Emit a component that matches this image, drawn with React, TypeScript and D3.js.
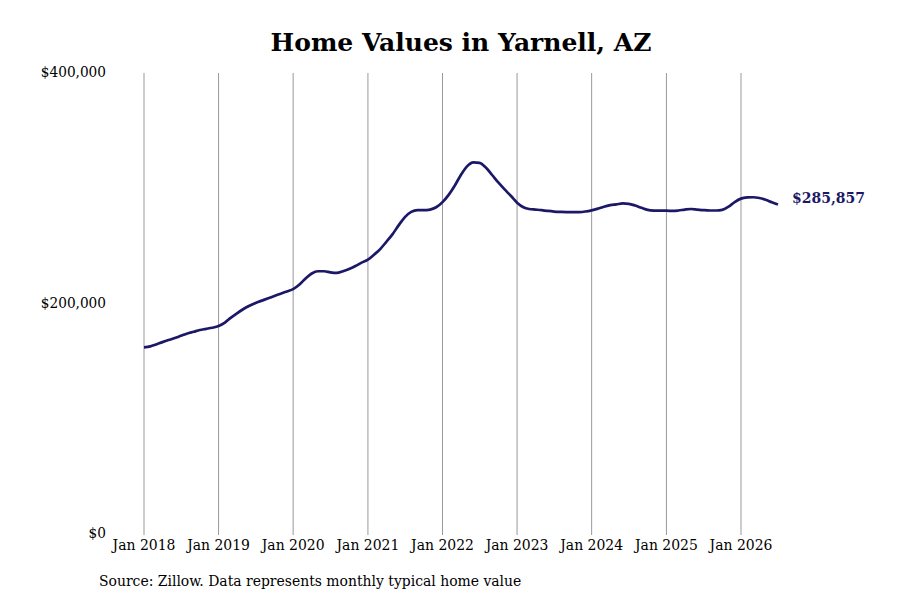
import React from "react";
import * as d3 from "d3";

const TITLE = "Home Values in Yarnell, AZ";
const SOURCE = "Source: Zillow. Data represents monthly typical home value";
const START_YEAR = 2018;
const X_TICK_YEARS = [2018, 2019, 2020, 2021, 2022, 2023, 2024, 2025, 2026];
const Y_TICKS = [0, 200000, 400000];

// Monthly typical home values, Jan 2018 .. Jul 2026
const VALUES = [
  162000, 162800, 164500, 166500, 168300, 170000, 172000, 174000, 175500, 177000, 178000, 179000,
  180500, 183500, 187500, 191500, 195000, 198000, 200500, 202500, 204500, 206500, 208500, 210500,
  212500, 216500, 221500, 226000, 228000, 228000, 227000, 226500, 228000, 230000, 232500, 235500,
  238000, 242500, 247000, 253500, 260000, 268000, 275000, 279500, 281000, 281000, 281500, 283500,
  288000, 294500, 302000, 311500, 319000, 322500, 322000, 318000, 311500, 305000, 299000, 293500,
  287500, 283500, 282000, 281500, 281000, 280300, 279800, 279500, 279300, 279200, 279300, 279800,
  280800, 282300, 284000, 285300, 286000, 286800, 286500, 285000, 283000, 281200, 280600, 280500,
  280500, 280300, 280700, 281500, 282000, 281500, 281000, 280700, 280700, 281200, 284000, 288000,
  291000, 292000, 292200, 291500, 290000, 287800, 285857,
];

const FONT = "'DejaVu Serif', serif";
const FONT_C = "'DejaVu Serif Condensed', 'DejaVu Serif', serif";
const LINE_COLOR = "#1c1868";

export default function App() {
  const x = d3
    .scaleTime()
    .domain([new Date(2018, 0, 1), new Date(2026, 0, 1)])
    .range([144, 741]);
  const y = d3.scaleLinear().domain([0, 400000]).range([534, 73]);

  const data = VALUES.map((v, i) => ({ date: new Date(START_YEAR, i, 1), v }));
  const line = d3
    .line<{ date: Date; v: number }>()
    .x((d) => x(d.date))
    .y((d) => y(d.v))
    .curve(d3.curveMonotoneX);

  const last = data[data.length - 1];
  const fmt = d3.format("$,.0f");

  return (
    <svg
      width={900}
      height={600}
      style={{ position: "absolute", left: 0, top: 0, background: "#fff" }}
    >
      <rect width={900} height={600} fill="#fff" />
      <text
        x={461}
        y={44}
        textAnchor="middle"
        dominantBaseline="middle"
        fontFamily={FONT}
        fontWeight="bold"
        fontSize={25}
        fill="#000"
      >
        {TITLE}
      </text>
      {X_TICK_YEARS.map((yr) => {
        const xx = x(new Date(yr, 0, 1));
        return (
          <g key={yr}>
            <line x1={xx} x2={xx} y1={y(400000)} y2={535} stroke="#999" strokeWidth={1} />
            <text
              x={xx}
              y={546}
              textAnchor="middle"
              dominantBaseline="middle"
              fontFamily={FONT_C}
              fontSize={15.5}
              fill="#000"
            >
              {`Jan ${yr}`}
            </text>
          </g>
        );
      })}
      {Y_TICKS.map((t) => (
        <text
          key={t}
          x={106}
          y={y(t)}
          textAnchor="end"
          dominantBaseline="middle"
          fontFamily={FONT_C}
          fontSize={15.2}
          fill="#000"
        >
          {fmt(t)}
        </text>
      ))}
      <path d={line(data) ?? ""} fill="none" stroke={LINE_COLOR} strokeWidth={2.7} />
      <text
        x={792}
        y={y(last.v) - 6}
        dominantBaseline="middle"
        fontFamily={FONT}
        fontWeight="bold"
        fontSize={14}
        fill={LINE_COLOR}
      >
        {fmt(last.v)}
      </text>
      <text
        x={99}
        y={582}
        dominantBaseline="middle"
        fontFamily={FONT_C}
        fontSize={15.5}
        fill="#000"
      >
        {SOURCE}
      </text>
    </svg>
  );
}
